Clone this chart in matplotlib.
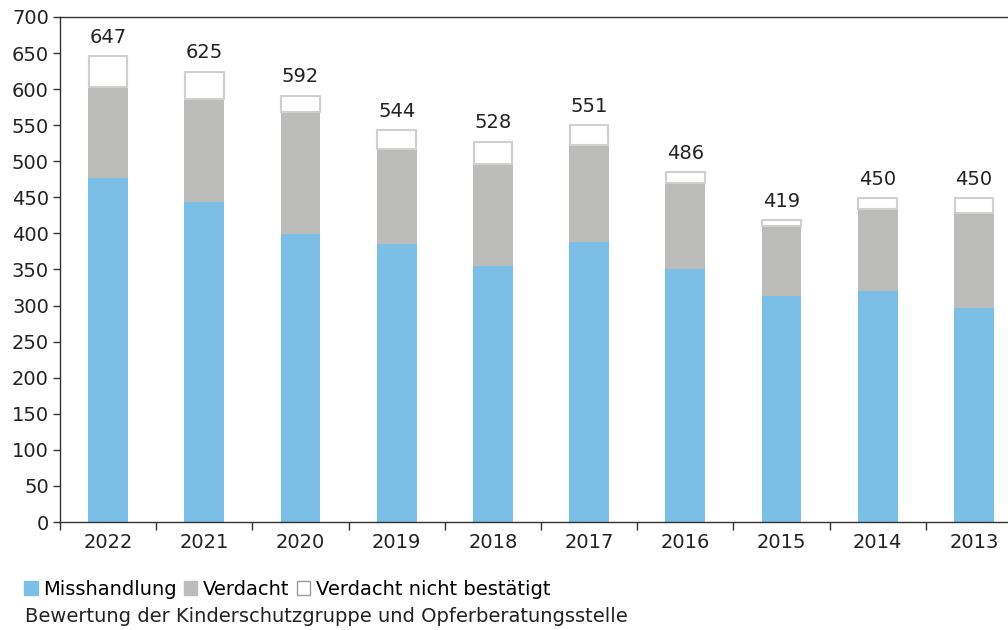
import numpy as np
import matplotlib
matplotlib.use('Agg')
import matplotlib.pyplot as plt
from matplotlib.patches import Patch

plt.rcParams['font.family'] = ['DejaVu Sans']

# Daten
jahre = ['2022', '2021', '2020', '2019', '2018', '2017', '2016', '2015', '2014', '2013']
misshandlung = [477, 444, 399, 386, 355, 388, 350, 313, 320, 296]
verdacht = [126, 142, 170, 131, 141, 134, 120, 97, 114, 133]
nicht_bestaetigt = [44, 39, 23, 27, 32, 29, 16, 9, 16, 21]

blau = '#7cbfe6'
grau = '#bcbcbb'
rand = '#d0d0d0'
schrift = '#222222'
fs = 14

fig = plt.figure(figsize=(10.08, 6.3), dpi=100)
ax = fig.add_axes([60 / 1008, 108 / 630, 962 / 1008, 505 / 630])

x = np.arange(len(jahre))
breite = 0.415
m = np.array(misshandlung)
v = np.array(verdacht)
n = np.array(nicht_bestaetigt)

ax.bar(x, m, breite, color=blau, linewidth=0)
ax.bar(x, v, breite, bottom=m, color=grau, linewidth=0)
ax.bar(x, n - 1.0, breite * 0.97, bottom=m + v, color='white', edgecolor=rand, linewidth=1.5)

summe = m + v + n
for xi, s in zip(x, summe):
    ax.text(xi, s + 12, str(s), ha='center', va='bottom', fontsize=fs, color=schrift)

ax.set_xlim(-0.5, len(jahre) - 0.5)
ax.set_ylim(0, 700)
ax.set_yticks(range(0, 701, 50))
ax.set_xticks(x)
ax.set_xticklabels(jahre)
ax.set_xticks(np.arange(-0.5, len(jahre), 1), minor=True)
ax.tick_params(axis='x', which='major', length=0, pad=8, labelsize=fs, colors=schrift)
ax.tick_params(axis='x', which='minor', length=6, width=1, color='#333333', direction='out')
ax.tick_params(axis='y', length=5, width=1, color='#333333', labelsize=fs, labelcolor=schrift, pad=3)

for s in ['left', 'bottom', 'top']:
    ax.spines[s].set_color('#333333')
    ax.spines[s].set_linewidth(1)
ax.spines['right'].set_visible(False)

handles = [Patch(facecolor=blau, edgecolor=blau),
           Patch(facecolor=grau, edgecolor=grau),
           Patch(facecolor='white', edgecolor='#999999', linewidth=1)]
labels = ['Misshandlung', 'Verdacht', 'Verdacht nicht bestätigt']
fig.legend(handles, labels, loc='upper left', bbox_to_anchor=(24 / 1008, 1 - 580 / 630),
           ncol=3, frameon=False, fontsize=fs, handlelength=0.7, handleheight=0.7,
           handletextpad=0.3, columnspacing=0.35, borderaxespad=0, borderpad=0)

fig.text(25 / 1008, 1 - 617 / 630, 'Bewertung der Kinderschutzgruppe und Opferberatungsstelle',
         fontsize=fs, color=schrift, va='center', ha='left')

fig.savefig('out.png', dpi=100)
